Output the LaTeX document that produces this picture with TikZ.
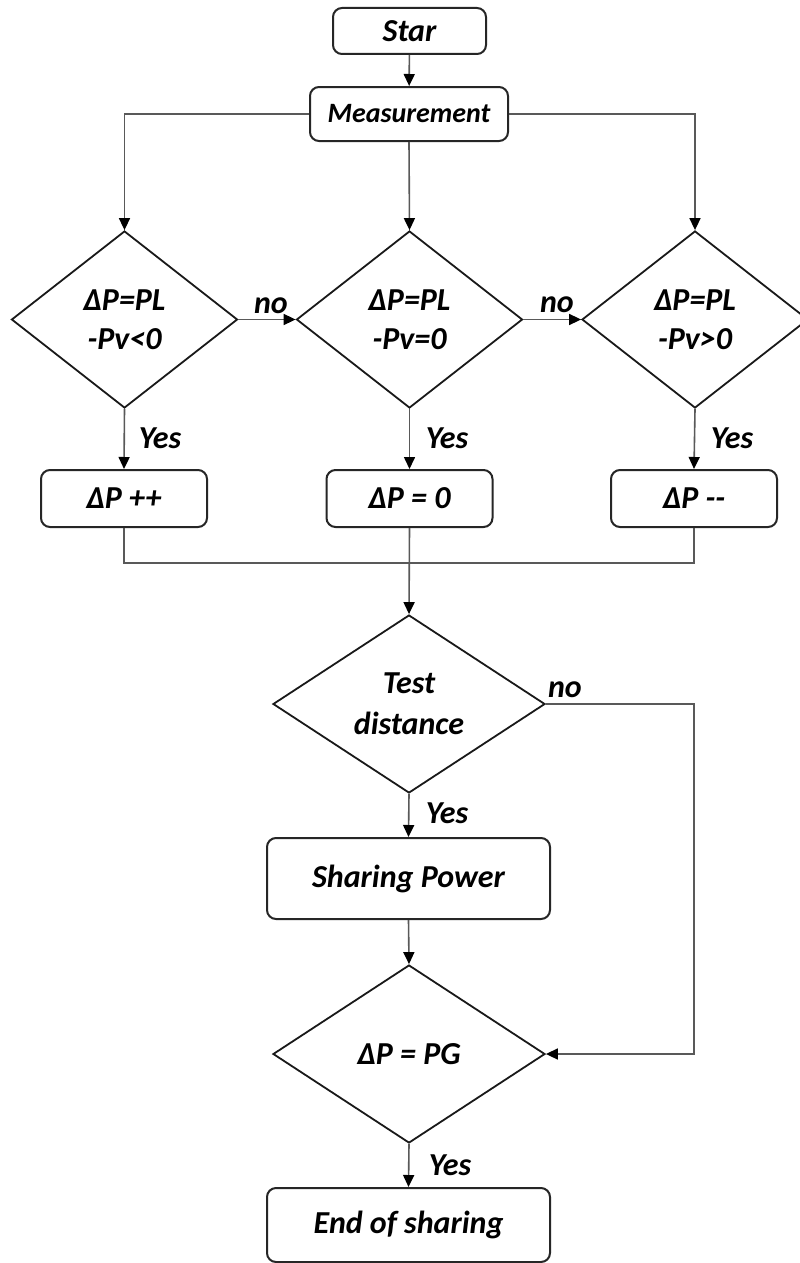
\documentclass[tikz,border=0pt]{standalone}
\usepackage{fontspec}
\setmainfont{Carlito}
\usetikzlibrary{shapes.geometric,arrows.meta}
\begin{document}
\begin{tikzpicture}[x=1pt,y=-1pt,
  every node/.style={font=\fontsize{32}{39}\selectfont\bfseries\itshape},
  box/.style={draw=black!85, line width=2pt, rounded corners=9pt, align=center, inner sep=0pt},
  dec/.style={draw=black!90, diamond, line width=1.8pt, inner sep=0pt, align=center, minimum width=226pt, minimum height=177pt},
  dec2/.style={dec, minimum width=272pt, minimum height=178pt},
  conn/.style={draw=black!65, line width=1.6pt},
  arr/.style={conn, -{Triangle[length=12pt,width=11pt,color=black]}},
  lab/.style={inner sep=0pt}
]
\useasboundingbox[fill=white] (0,0) rectangle (800,1263);

\node[box, minimum width=153pt, minimum height=46pt] (star) at (409.5,31) {Star};
\node[box, minimum width=198pt, minimum height=54pt, font=\fontsize{28}{32}\selectfont\bfseries\itshape] (meas) at (409,114) {Measurement};

\node[dec] (d1) at (124.5,319.5) {ΔP=PL\\-Pv<0};
\node[dec] (d2) at (409.5,319.5) {ΔP=PL\\-Pv=0};
\node[dec] (d3) at (695,319.5) {ΔP=PL\\-Pv>0};

\node[box, minimum width=166pt, minimum height=57pt] (b1) at (124,498.5) {ΔP ++};
\node[box, minimum width=166pt, minimum height=57pt] (b2) at (409.5,498.5) {ΔP = 0};
\node[box, minimum width=166pt, minimum height=57pt] (b3) at (694,498.5) {ΔP -{}-};

\node[dec2, font=\fontsize{32}{41}\selectfont\bfseries\itshape] (test) at (409,704) {Test\\distance};
\node[box, minimum width=283pt, minimum height=81pt] (share) at (408.5,878.5) {Sharing Power};
\node[dec2] (pg) at (409,1054) {ΔP = PG};
\node[box, minimum width=283pt, minimum height=74pt] (end) at (408.5,1225) {End of sharing};

\coordinate (mj) at (409.5,563);
\coordinate (nc) at (694,704);

\draw[arr] (star) -- (meas);
\draw[arr] (meas.west) -| (d1.north);
\draw[arr] (meas.south) -- (d2.north);
\draw[arr] (meas.east) -| (d3.north);
\draw[arr] (d1.east) -- (d2.west);
\draw[arr] (d2.east) -- (d3.west);
\draw[arr] (d1.south) -- (b1.north);
\draw[arr] (d2.south) -- (b2.north);
\draw[arr] (d3.south) -- (b3.north);
\draw[conn] (b1.south) |- (mj);
\draw[conn] (b3.south) |- (mj);
\draw[arr] (b2.south) -- (test.north);
\draw[arr] (test.south) -- (share.north);
\draw[arr] (test.east) -- (nc) |- (pg.east);
\draw[arr] (share.south) -- (pg.north);
\draw[arr] (pg.south) -- (end.north);

\node[lab] (no1) at (271,306) {no};
\node[lab] (no2) at (557,305) {no};
\node[lab] (y1) at (160,438) {Yes};
\node[lab] (y2) at (447,438) {Yes};
\node[lab] (y3) at (732,438) {Yes};
\node[lab] (no3) at (565,690) {no};
\node[lab] (y4) at (447,813) {Yes};
\node[lab] (y5) at (450,1165) {Yes};
\end{tikzpicture}
\end{document}
